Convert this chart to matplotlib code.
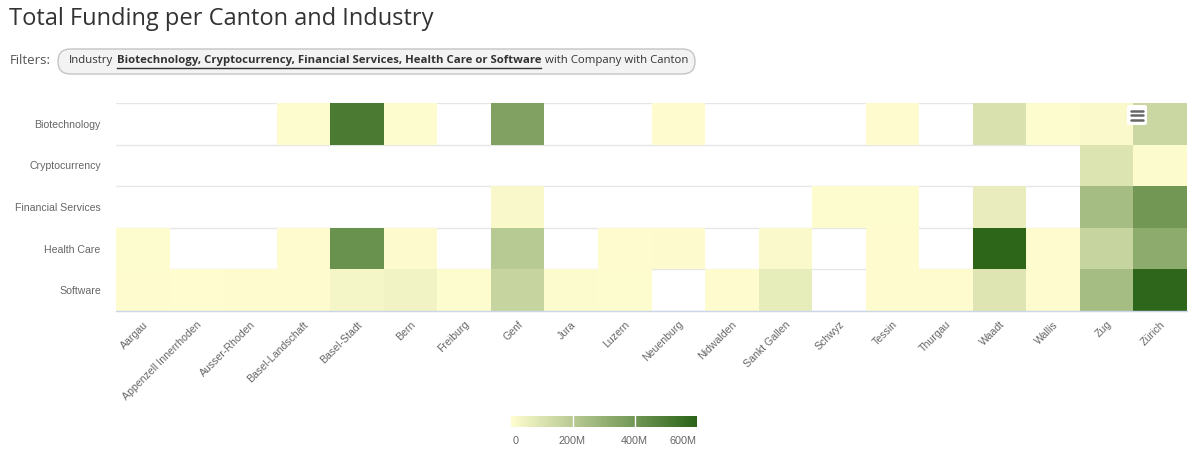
import numpy as np
import matplotlib
matplotlib.use("Agg")
import matplotlib.pyplot as plt
from matplotlib.colors import LinearSegmentedColormap
from matplotlib.patches import FancyBboxPatch

cantons = ["Aargau", "Appenzell Innerrhoden", "Ausser-Rhoden", "Basel-Landschaft",
           "Basel-Stadt", "Bern", "Freiburg", "Genf", "Jura", "Luzern", "Neuenburg",
           "Nidwalden", "Sankt Gallen", "Schwyz", "Tessin", "Thurgau", "Waadt",
           "Wallis", "Zug", "Zürich"]
industries = ["Biotechnology", "Cryptocurrency", "Financial Services", "Health Care", "Software"]

nan = np.nan
# funding in millions
biotech = [nan, nan, nan, 5, 510, 5, nan, 360, nan, nan, 4, nan, nan, nan, 4, nan, 108, 6, 15, 150]
crypto = [nan, nan, nan, nan, nan, nan, nan, nan, nan, nan, nan, nan, nan, nan, nan, nan, nan, nan, 100, 10]
finserv = [nan, nan, nan, nan, nan, nan, nan, 20, nan, nan, nan, nan, nan, 5, 7, nan, 65, nan, 255, 400]
health = [5, nan, nan, 3, 420, 8, nan, 200, nan, 4, 8, nan, 15, nan, 4, nan, 595, 3, 160, 320]
software = [3, 2, 3, 3, 30, 40, 5, 160, 10, 6, nan, 4, 70, nan, 3, 4, 95, 4, 255, 590]

cbar_ticks = [0, 200, 400, 600]
cbar_labels = ["0", "200M", "400M", "600M"]

data = np.array([biotech, crypto, finserv, health, software], dtype=float)
masked = np.ma.masked_invalid(data)

cmap = LinearSegmentedColormap.from_list("fund", ["#fffdd0", "#2b6418"])

W, H = 1200, 458
fig = plt.figure(figsize=(W / 100, H / 100), dpi=100)

def fx(px):
    return px / W

def fy(py):
    return 1 - py / H

LAB_FONT = ["Liberation Sans", "DejaVu Sans"]
UI_FONT = ["Open Sans", "DejaVu Sans"]

# main heatmap axes
ax = fig.add_axes([fx(116), fy(311), fx(1187) - fx(116), fy(103) - fy(311)])
for y in range(0, 6):
    ax.axhline(y, color="#e6e6e6", lw=1, zorder=0)
ax.pcolormesh(np.arange(21), np.arange(6), masked, cmap=cmap, vmin=0, vmax=600,
              shading="flat", zorder=1, edgecolors="none", antialiased=False)
ax.set_xlim(0, 20)
ax.set_ylim(5, 0)
for s in ["top", "left", "right"]:
    ax.spines[s].set_visible(False)
ax.spines["bottom"].set_color("#ccd6eb")
ax.spines["bottom"].set_linewidth(1)
ax.spines["bottom"].set_zorder(3)
ax.set_xticks(np.arange(20) + 0.5)
ax.set_xticklabels(cantons, rotation=45, ha="right", rotation_mode="anchor",
                   fontsize=7.6, color="#666666", family=LAB_FONT)
ax.set_yticks(np.arange(5) + 0.5)
ax.set_yticklabels(industries, fontsize=7.6, color="#666666", family=LAB_FONT)
ax.tick_params(axis="both", length=0)
ax.tick_params(axis="y", pad=11)
ax.tick_params(axis="x", pad=6)

# colorbar
cax = fig.add_axes([fx(511), fy(427), fx(697) - fx(511), fy(416) - fy(427)])
grad = np.linspace(0, 600, 256).reshape(1, -1)
cax.imshow(grad, aspect="auto", cmap=cmap, vmin=0, vmax=600, extent=[0, 600, 0, 1])
for t in cbar_ticks[1:-1]:
    cax.axvline(t, color="white", lw=1)
cax.set_xlim(0, 600)
cax.set_yticks([])
cax.set_xticks([])
for s in cax.spines.values():
    s.set_visible(False)

# overlay axes in pixel coordinates for texts and decorations
ov = fig.add_axes([0, 0, 1, 1], zorder=5)
ov.set_xlim(0, W)
ov.set_ylim(H, 0)
ov.axis("off")
ov.patch.set_alpha(0)

label_x = [513, 572, 634, 697]
label_ha = ["left", "center", "center", "right"]
for lx, lab, ha in zip(label_x, cbar_labels, label_ha):
    ov.text(lx, 441, lab, ha=ha, va="center", fontsize=7.8, color="#666666", family=LAB_FONT)

# title
ov.text(9, 19, "Total Funding per Canton and Industry", fontsize=17,
        color="#333333", family=UI_FONT, va="center", ha="left")

# filters
ov.text(10, 61, "Filters:", fontsize=9.5, color="#555555",
        family=UI_FONT, va="center", ha="left")
pill = FancyBboxPatch((58, 49), 637, 25,
                      boxstyle="round,pad=0,rounding_size=12.5",
                      facecolor="#f3f3f3", edgecolor="#c4c4c4", lw=1)
ov.add_patch(pill)

renderer = fig.canvas.get_renderer()
pieces = [("Industry", "normal", False),
          ("Biotechnology, Cryptocurrency, Financial Services, Health Care or Software", "bold", True),
          ("with Company with Canton", "normal", False)]
x = 69
gap = 3.5
for txt, wt, ul in pieces:
    t = ov.text(x, 61, txt, fontsize=8.2, color="#333333", weight=wt,
                family=UI_FONT, va="center", ha="left")
    bb = t.get_window_extent(renderer=renderer)
    if ul:
        ov.plot([x, x + bb.width], [67.5, 67.5], color="#333333", lw=1)
    x += bb.width + gap

# export menu icon
box = FancyBboxPatch((1127, 105), 20, 20,
                     boxstyle="round,pad=0,rounding_size=2",
                     facecolor="white", edgecolor="none")
ov.add_patch(box)
for yy in [110.5, 115, 119.5]:
    ov.plot([1131, 1143], [yy, yy], color="#666666", lw=1.8, solid_capstyle="round")

fig.savefig("out.png", dpi=100, facecolor="white")
